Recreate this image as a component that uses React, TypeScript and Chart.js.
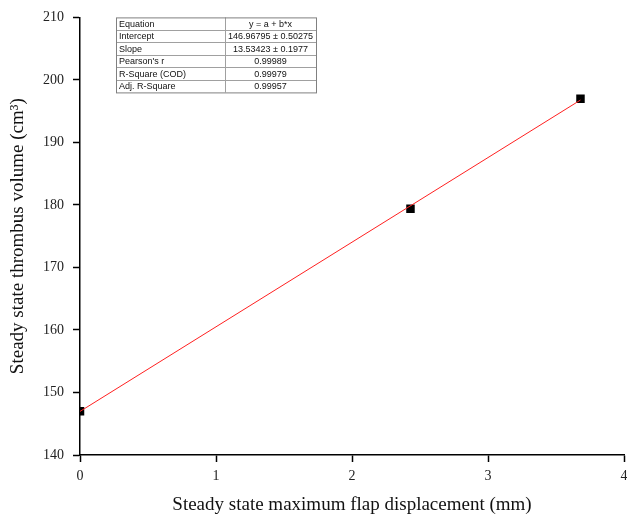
import React, { useEffect, useRef } from 'react';
import { Chart, registerables } from 'chart.js';

Chart.register(...registerables);

// Measured data points
const pointX = [0, 2.43, 3.68];
const pointY = [147.0, 179.4, 197.0];

// Linear fit line endpoints (y = a + b*x)
const fitX = [0, 3.68];
const fitY = [146.97, 196.78];

// Axis ranges
const xMin = 0;
const xMax = 4;
const xStep = 1;
const yMin = 140;
const yMax = 210;
const yStep = 10;

// Fit statistics table
const tableLabels = ['Equation', 'Intercept', 'Slope', "Pearson's r", 'R-Square (COD)', 'Adj. R-Square'];
const tableValues = ['y = a + b*x', '146.96795 \u00B1 0.50275', '13.53423 \u00B1 0.1977', '0.99989', '0.99979', '0.99957'];

const xTitle = 'Steady state maximum flap displacement (mm)';
const yTitle = 'Steady state thrombus volume (cm\u00B3)';

const serif = "'Liberation Serif', 'Times New Roman', serif";
const sans = "'Liberation Sans', Arial, sans-serif";

const tablePlugin = {
  id: 'fitTable',
  afterDraw(chart: any) {
    const { ctx, chartArea } = chart;
    ctx.save();
    const tx = chartArea.left + 36;
    const ty = chartArea.top;
    const tw = 200;
    const rowH = 12.5;
    const colX = tx + 109;
    const th = rowH * tableLabels.length;
    ctx.fillStyle = '#ffffff';
    ctx.fillRect(tx, ty, tw, th);
    ctx.strokeStyle = '#a0a0a0';
    ctx.lineWidth = 1;
    for (let i = 1; i < tableLabels.length; i++) {
      const y = Math.round(ty + i * rowH) + 0.5;
      ctx.beginPath();
      ctx.moveTo(tx, y);
      ctx.lineTo(tx + tw, y);
      ctx.stroke();
    }
    ctx.beginPath();
    ctx.moveTo(colX + 0.5, ty);
    ctx.lineTo(colX + 0.5, ty + th);
    ctx.stroke();
    ctx.strokeStyle = '#808080';
    ctx.strokeRect(tx + 0.5, ty + 0.5, tw, th);
    ctx.font = `9px ${sans}`;
    ctx.fillStyle = '#111111';
    ctx.textBaseline = 'middle';
    for (let i = 0; i < tableLabels.length; i++) {
      const cy = ty + i * rowH + rowH / 2 + 0.5;
      ctx.textAlign = 'left';
      ctx.fillText(tableLabels[i], tx + 3, cy);
      ctx.textAlign = 'center';
      ctx.fillText(tableValues[i], (colX + tx + tw) / 2, cy);
    }
    ctx.restore();
  },
};

export default function App() {
  const canvasRef = useRef<HTMLCanvasElement | null>(null);

  useEffect(() => {
    const canvas = canvasRef.current;
    if (!canvas) return;
    const chart = new Chart(canvas, {
      type: 'scatter',
      data: {
        datasets: [
          {
            type: 'line',
            label: 'Linear fit',
            data: fitX.map((x, i) => ({ x, y: fitY[i] })),
            borderColor: '#ff2020',
            borderWidth: 1,
            pointRadius: 0,
            fill: false,
          } as any,
          {
            type: 'scatter',
            label: 'Data',
            data: pointX.map((x, i) => ({ x, y: pointY[i] })),
            pointStyle: 'rect',
            pointRadius: 6,
            backgroundColor: '#000000',
            borderColor: '#000000',
            borderWidth: 0,
          },
        ],
      },
      options: {
        responsive: false,
        animation: false,
        layout: { autoPadding: false, padding: { top: 16, right: 3, left: 0, bottom: 0 } },
        plugins: {
          legend: { display: false },
          tooltip: { enabled: false },
        },
        scales: {
          x: {
            type: 'linear',
            min: xMin,
            max: xMax,
            ticks: {
              stepSize: xStep,
              padding: 6,
              color: '#222222',
              font: { family: serif, size: 14 },
            },
            grid: {
              drawOnChartArea: false,
              drawTicks: true,
              tickLength: 7,
              tickColor: '#000000',
              tickWidth: 1.5,
            },
            border: { display: true, color: '#000000', width: 1.5 },
            title: {
              display: true,
              text: xTitle,
              color: '#111111',
              font: { family: serif, size: 19 },
              padding: { top: 0, bottom: 0 },
            },
            afterFit(scale: any) {
              scale.height = 61;
              scale.paddingLeft = 0;
              scale.paddingRight = 0;
            },
          },
          y: {
            type: 'linear',
            min: yMin,
            max: yMax,
            ticks: {
              stepSize: yStep,
              padding: 9,
              color: '#222222',
              font: { family: serif, size: 14 },
            },
            grid: {
              drawOnChartArea: false,
              drawTicks: true,
              tickLength: 7,
              tickColor: '#000000',
              tickWidth: 1.5,
            },
            border: { display: true, color: '#000000', width: 1.5 },
            title: {
              display: true,
              text: yTitle,
              color: '#111111',
              font: { family: serif, size: 19 },
              padding: { top: 7, bottom: 0 },
            },
            afterFit(scale: any) {
              scale.width = 80;
              scale.paddingRight = 0;
              scale.paddingLeft = 0;
            },
          },
        },
      },
      plugins: [tablePlugin],
    });
    return () => chart.destroy();
  }, []);

  return (
    <div style={{ position: 'fixed', left: 0, top: 0, width: 627, height: 516, background: '#ffffff' }}>
      <canvas ref={canvasRef} width={627} height={516} style={{ display: 'block' }} />
    </div>
  );
}
